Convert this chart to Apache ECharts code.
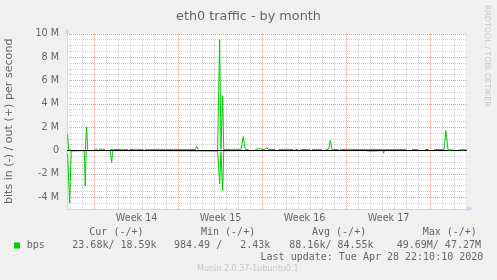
<!DOCTYPE html>
<html><head><meta charset="utf-8">
<style>html,body{margin:0;padding:0;background:#f0f0f0;}#c{width:497px;height:280px;}</style>
<script src="https://cdn.jsdelivr.net/npm/echarts@6/dist/echarts.min.js"></script>
</head><body><div id="c"></div>
<script>
// ---- text ----
const chartTitle = 'eth0 traffic - by month';
const yAxisName = 'bits in (-) / out (+) per second';
const weekLabels = ['Week 14', 'Week 15', 'Week 16', 'Week 17'];
const weekCenters = [3.5, 10.5, 17.5, 24.5];      // days from start of week 14
const seriesName = 'bps';
const legendHeaders = ['Cur (-/+)', 'Min (-/+)', 'Avg (-/+)', 'Max (-/+)'];
const legendValues = ['23.68k/ 18.59k', '984.49 /   2.43k', '88.16k/ 84.55k', '49.69M/ 47.27M'];
const lastUpdate = 'Last update: Tue Apr 28 22:10:10 2020';
const versionText = 'Munin 2.0.37-1ubuntu0.1';
const watermark = 'RRDTOOL / TOBI OETIKER';

// ---- axes (days / Mbit/s) ----
const xMin = -2.3, xMax = 31.03;        // plotted time span, days from start of week 14
const dayGridMin = -2, dayGridMax = 31; // first / last midnight inside the span
const weekGridMin = 0, weekGridMax = 28;
const yMin = -5, yMax = 10;

// ---- data: out (+), Mbit/s ----
const outDays = [-2.25,-2.17,-1.98,-1.92,-0.77,-0.67,-0.57,-0.50,0.00,0.22,0.28,0.36,0.87,0.95,1.30,1.42,1.55,2.30,2.78,2.83,2.90,3.50,4.08,4.13,4.20,4.60,4.70,4.80,5.20,5.90,6.60,7.30,7.90,8.38,8.52,8.64,8.72,10.25,10.42,10.53,10.67,10.76,11.40,12.20,12.39,12.55,12.83,12.88,13.39,13.66,13.78,14.20,14.35,14.47,15.05,15.10,15.33,16.00,16.58,16.64,16.73,16.98,17.03,17.14,17.97,18.02,18.11,18.94,18.99,19.23,19.50,19.64,19.78,20.33,20.38,20.47,21.20,22.10,23.00,24.00,25.00,26.00,26.05,26.45,26.95,27.00,27.53,27.84,27.89,28.31,29.12,29.27,29.45,29.90,29.95,30.33,30.98];
const outMbps = [1.40,0.05,0.05,null,0.02,2.00,0.05,null,0.10,0.10,null,0.10,0.10,null,0.06,0.08,0.08,0.10,0.08,null,0.08,0.10,0.08,null,0.08,0.08,0.17,0.08,0.10,0.08,0.10,0.08,0.08,0.08,0.34,0.08,null,0.05,9.50,0.10,4.70,0.08,0.10,0.10,1.20,0.10,0.08,null,0.08,0.15,0.08,0.08,0.26,0.08,0.08,null,0.08,0.10,0.08,null,0.08,0.08,null,0.08,0.08,null,0.08,0.08,null,0.08,0.08,0.86,0.08,0.08,null,0.08,0.10,0.08,0.08,0.08,0.08,0.08,null,0.08,0.08,null,0.08,0.08,null,0.08,0.08,1.71,0.05,0.05,null,0.06,0.06];

// ---- data: in (-), Mbit/s ----
const inDays = [-2.25,-2.08,-1.95,-1.90,-0.86,-0.78,-0.70,1.30,1.42,1.52,4.60,4.70,4.80,10.25,10.42,10.53,10.67,10.76,12.30,12.39,12.48,20.60,20.67,20.74,21.66,21.73,21.80,22.55,22.65,22.95,23.05,24.00,24.08,24.16,25.67,25.75,25.83,27.75,27.83,27.91,29.20,29.27,29.34,30.98];
const inMbps = [-0.30,-4.50,-0.05,-0.01,-0.01,-3.05,-0.01,-0.01,-1.02,-0.01,-0.01,-0.08,-0.01,-0.05,-2.86,-0.10,-3.43,-0.03,-0.01,-0.10,-0.01,-0.01,-0.10,-0.01,-0.01,-0.10,-0.01,-0.01,-0.06,-0.06,-0.01,-0.01,-0.23,-0.01,-0.01,-0.14,-0.01,-0.01,-0.10,-0.01,-0.01,-0.05,-0.01,-0.01];

const pair = (xs, ys) => xs.map((x, i) => [x, ys[i]]);

const FONT = '#666666';
const AXIS = '#CFD6F8';
const GRID = 'rgba(140,140,140,0.4)';
const MGRID = 'rgba(225,90,90,0.6)';
const NONE = 'rgba(0,0,0,0)';
const GREEN = '#00cc00';
const sans = 'DejaVu Sans';

// main plot: 400 px for 33.33 days, 175 px for 15 M
const PL = 67, PT = 33.8, PW = 400, PH = 175;
const pxPerDay = PW / (xMax - xMin);
const base = { containLabel: false, outerBoundsMode: 'none' };
const gridMain = Object.assign({ left: PL, top: PT, width: PW, height: PH, show: true, backgroundColor: '#ffffff', borderWidth: 0 }, base);
const gridDay = Object.assign({ left: PL + (dayGridMin - xMin) * pxPerDay, top: PT, width: (dayGridMax - dayGridMin) * pxPerDay, height: PH, show: false }, base);
const gridWeek = Object.assign({ left: PL + (weekGridMin - xMin) * pxPerDay, top: PT, width: (weekGridMax - weekGridMin) * pxPerDay, height: PH, show: false }, base);

const hidden = { axisLine: { show: false }, axisTick: { show: false }, axisLabel: { show: false } };

const option = {
  animation: false,
  backgroundColor: '#f0f0f0',
  title: { text: chartTitle, left: 'center', top: 5, textStyle: { fontFamily: sans, fontSize: 12.8, fontWeight: 'normal', color: FONT } },
  grid: [gridMain, gridDay, gridWeek],
  xAxis: [
    { type: 'value', gridIndex: 0, min: xMin, max: xMax, position: 'bottom',
      axisLine: { show: true, onZero: false, lineStyle: { color: AXIS, width: 1 }, symbol: ['none', 'triangle'], symbolSize: [6, 6], symbolOffset: [0, 3] },
      axisTick: { show: false }, splitLine: { show: false },
      axisLabel: { show: true, customValues: weekCenters, margin: 5, fontFamily: sans, fontSize: 9.6, color: FONT,
        formatter: v => { const i = weekCenters.indexOf(v); return i < 0 ? '' : weekLabels[i]; } } },
    Object.assign({ type: 'value', gridIndex: 1, min: dayGridMin, max: dayGridMax, interval: 1,
      splitLine: { show: true, lineStyle: { color: [GRID, GRID, NONE, GRID, GRID, GRID, GRID], type: [1, 1], width: 1 } } }, hidden),
    Object.assign({ type: 'value', gridIndex: 2, min: weekGridMin, max: weekGridMax, interval: 7,
      splitLine: { show: true, lineStyle: { color: MGRID, type: [1, 1], width: 1 } } }, hidden)
  ],
  yAxis: [
    { type: 'value', gridIndex: 0, min: yMin, max: yMax, interval: 0.5,
      name: yAxisName, nameLocation: 'middle', nameRotate: 90, nameGap: 52,
      nameTextStyle: { fontFamily: sans, fontSize: 11.1, color: FONT },
      axisLine: { show: true, onZero: false, lineStyle: { color: AXIS, width: 1 }, symbol: ['none', 'triangle'], symbolSize: [6, 6], symbolOffset: [0, 3] },
      axisTick: { show: false },
      axisLabel: { margin: 8, fontFamily: sans, fontSize: 9.6, color: FONT,
        formatter: v => (Math.round(v * 2) % 4 === 0 ? (v === 0 ? '0' : v + ' M') : '') },
      splitLine: { show: true, lineStyle: { color: [GRID, GRID, MGRID, GRID], type: [1, 1], width: 1 } } },
    Object.assign({ type: 'value', gridIndex: 1, min: yMin, max: yMax, splitLine: { show: false } }, hidden),
    Object.assign({ type: 'value', gridIndex: 2, min: yMin, max: yMax, splitLine: { show: false } }, hidden)
  ],
  series: [
    { name: seriesName, type: 'line', xAxisIndex: 0, yAxisIndex: 0, data: pair(inDays, inMbps),
      showSymbol: false, symbol: 'none', connectNulls: false, z: 2,
      lineStyle: { color: GREEN, width: 1 }, itemStyle: { color: GREEN },
      markLine: { silent: true, z: 5, symbol: ['none', 'none'], label: { show: false },
        lineStyle: { color: '#000000', width: 1, type: 'solid' }, data: [{ yAxis: 0 }] } },
    { name: seriesName, type: 'line', xAxisIndex: 0, yAxisIndex: 0, data: pair(outDays, outMbps),
      showSymbol: false, symbol: 'none', connectNulls: false, z: 8,
      lineStyle: { color: GREEN, width: 1 }, itemStyle: { color: GREEN } }
  ],
  graphic: []
};

const headerX = [89.3, 201, 312, 422.7];
const valueX = [72.3, 174, 289.3, 396.7];
const txt = (x, y, text, font, fill, align) => ({ type: 'text', x: x, y: y,
  style: { text: text, font: font, fill: fill, align: align, verticalAlign: 'middle', textAlign: align, textVerticalAlign: 'middle' } });
const monoFont = '10px "DejaVu Sans Mono"';
const g = option.graphic;
const wm = txt(487.5, 5, watermark, '7.9px "DejaVu Sans"', '#c8c8c8', 'left');
wm.rotation = -Math.PI / 2;
g.push(wm);
g.push({ type: 'rect', shape: { x: 14, y: 242.5, width: 6, height: 6 }, style: { fill: GREEN } });
g.push(txt(26.7, 245.3, seriesName, monoFont, FONT, 'left'));
legendHeaders.forEach((t, i) => g.push(txt(headerX[i], 232.4, t, monoFont, FONT, 'left')));
legendValues.forEach((t, i) => g.push(txt(valueX[i], 245.3, t, monoFont, FONT, 'left')));
g.push(txt(483.3, 257, lastUpdate, monoFont, FONT, 'right'));
g.push(txt(247.8, 269.3, versionText, '8px "DejaVu Sans"', '#c8c8c8', 'center'));

const chart = echarts.init(document.getElementById('c'), null, { renderer: 'canvas' });
chart.setOption(option);
</script></body></html>
